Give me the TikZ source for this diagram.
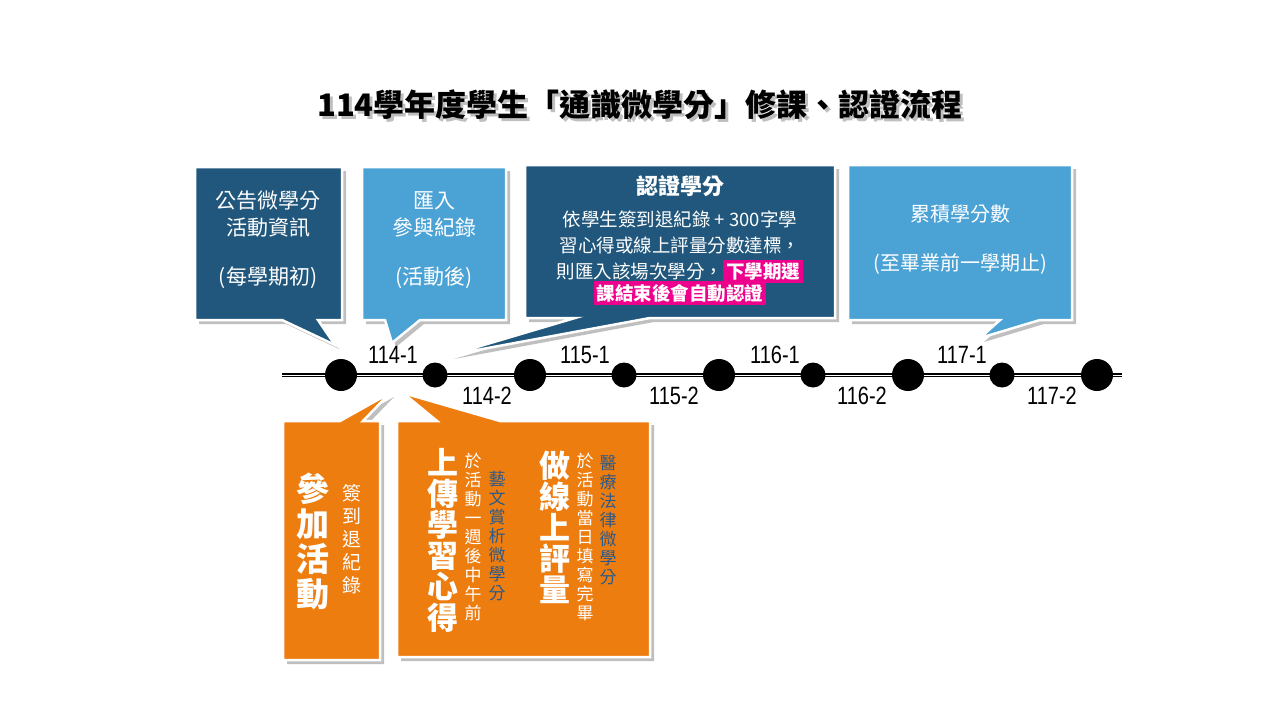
\documentclass[tikz,border=0pt]{standalone}
\usepackage{fontspec}
\setmainfont{Noto Sans CJK TC}
\newfontfamily\numf[FakeStretch=0.8]{Liberation Sans}
\begin{document}
\begin{tikzpicture}[x=1pt,y=-1pt,
  dk/.style={fill={rgb,255:red,33;green,87;blue,124}},
  lt/.style={fill={rgb,255:red,75;green,162;blue,213}},
  og/.style={fill={rgb,255:red,238;green,125;blue,16}},
  bub/.style={draw=white,line width=2.5pt,line join=miter},
  shd/.style={fill=black,opacity=0.25},
  wt/.style={text=white,align=center,inner sep=0pt},
  vt/.style={text=white,align=center,inner sep=0pt},
  lab/.style={font=\numf\fontsize{25}{25}\selectfont,inner sep=0pt},
  bigd/.style={circle,fill=black,minimum size=32pt,inner sep=0pt},
  smd/.style={circle,fill=black,minimum size=25pt,inner sep=0pt}]
\useasboundingbox (0,0) rectangle (1280,720);
\fill[white] (0,0) rectangle (1280,720);
% title
\node[font=\bfseries\fontsize{31}{31}\selectfont,text=black!25] at (643,108) {114學年度學生「通識微學分」修課、認證流程};
\node (title) [font=\bfseries\fontsize{31}{31}\selectfont] at (640,105) {114學年度學生「通識微學分」修課、認證流程};
% shadows
\begin{scope}[shift={(4,4)}]
\fill[shd] (195,167) -- (342,167) -- (342,320) -- (318,320) -- (335,345) -- (282,320) -- (195,320) -- cycle;
\fill[shd] (362,167) -- (506,167) -- (506,320) -- (420,320) -- (392,343) -- (385,320) -- (362,320) -- cycle;
\fill[shd] (525,165) -- (835,165) -- (835,318) -- (650,318) -- (450,355) -- (575,318) -- (525,318) -- cycle;
\fill[shd] (848,165) -- (1072,165) -- (1072,320) -- (1040,320) -- (980,338) -- (1000,320) -- (848,320) -- cycle;
\fill[shd] (283,421) -- (340,421) -- (390,393) -- (363,421) -- (380,421) -- (380,660) -- (283,660) -- cycle;
\fill[shd] (397,421) -- (437,421) -- (403,393) -- (500,421) -- (650,421) -- (650,657) -- (397,657) -- cycle;
\end{scope}
% callouts
\draw[bub,dk] (195,167) -- (342,167) -- (342,320) -- (318,320) -- (335,345) -- (282,320) -- (195,320) -- cycle;
\draw[bub,lt] (362,167) -- (506,167) -- (506,320) -- (420,320) -- (392,343) -- (385,320) -- (362,320) -- cycle;
\draw[bub,dk] (525,165) -- (835,165) -- (835,318) -- (650,318) -- (450,355) -- (575,318) -- (525,318) -- cycle;
\draw[bub,lt] (848,165) -- (1072,165) -- (1072,320) -- (1040,320) -- (980,338) -- (1000,320) -- (848,320) -- cycle;
\draw[bub,og] (283,421) -- (340,421) -- (390,393) -- (363,421) -- (380,421) -- (380,660) -- (283,660) -- cycle;
\draw[bub,og] (397,421) -- (437,421) -- (403,393) -- (500,421) -- (650,421) -- (650,657) -- (397,657) -- cycle;
% top texts
\node (t1) [wt,font=\fontsize{21}{27}\selectfont] at (268,240) {公告微學分\\活動資訊\\[22pt](每學期初)};
\node (t2) [wt,font=\fontsize{21}{27}\selectfont] at (434,240) {匯入\\參與紀錄\\[22pt](活動後)};
\node (t3h) [wt,font=\bfseries\fontsize{22}{22}\selectfont] at (680,186) {認證學分};
\node (t3) [wt,font=\fontsize{18.5}{26}\selectfont] at (680,258) {依學生簽到退紀錄 + 300字學\\習心得或線上評量分數達標，\\則匯入該場次學分，\colorbox{magenta}{\bfseries 下學期選}\\[-4pt]\colorbox{magenta}{\bfseries 課結束後會自動認證}};
\node (t4) [wt,font=\fontsize{20}{27}\selectfont] at (960,240) {累積學分數\\[22pt](至畢業前一學期止)};
% timeline
\draw[line width=4pt] (282,375) -- (1122,375);
\draw[white,line width=0.8pt] (282,375.5) -- (1122,375.5);
\foreach \x/\n in {341/a,530/b,719/c,908/d,1097/e} \node (d\n) [bigd] at (\x,375) {};
\foreach \x/\n in {435/f,624/g,813/h,1002/i} \node (d\n) [smd] at (\x,375) {};
\node (l1) [lab] at (393,355) {114-1};
\node (l2) [lab] at (585,355) {115-1};
\node (l3) [lab] at (775,355) {116-1};
\node (l4) [lab] at (962,355) {117-1};
\node (l5) [lab] at (487,396) {114-2};
\node (l6) [lab] at (674,396) {115-2};
\node (l7) [lab] at (862,396) {116-2};
\node (l8) [lab] at (1052,396) {117-2};
% vertical texts
\node (v1) [vt,font=\bfseries\fontsize{33}{35}\selectfont] at (313,541) {參\\加\\活\\動};
\node (v2) [vt,font=\fontsize{19}{23}\selectfont] at (352,539) {簽\\到\\退\\紀\\錄};
\node (v3) [vt,font=\bfseries\fontsize{31}{31}\selectfont] at (443,540) {上\\傳\\學\\習\\心\\得};
\node (v4) [vt,font=\fontsize{17}{19}\selectfont] at (473,537) {於\\活\\動\\一\\週\\後\\中\\午\\前};
\node (v5) [vt,text={rgb,255:red,40;green,90;blue,140},font=\fontsize{17}{19}\selectfont] at (497,536) {藝\\文\\賞\\析\\微\\學\\分};
\node (v6) [vt,font=\bfseries\fontsize{31}{31}\selectfont] at (555,527) {做\\線\\上\\評\\量};
\node (v7) [vt,font=\fontsize{17}{19}\selectfont] at (585,537) {於\\活\\動\\當\\日\\填\\寫\\完\\畢};
\node (v8) [vt,text={rgb,255:red,40;green,90;blue,140},font=\fontsize{17}{19}\selectfont] at (608,520) {醫\\療\\法\\律\\微\\學\\分};
\end{tikzpicture}
\end{document}
